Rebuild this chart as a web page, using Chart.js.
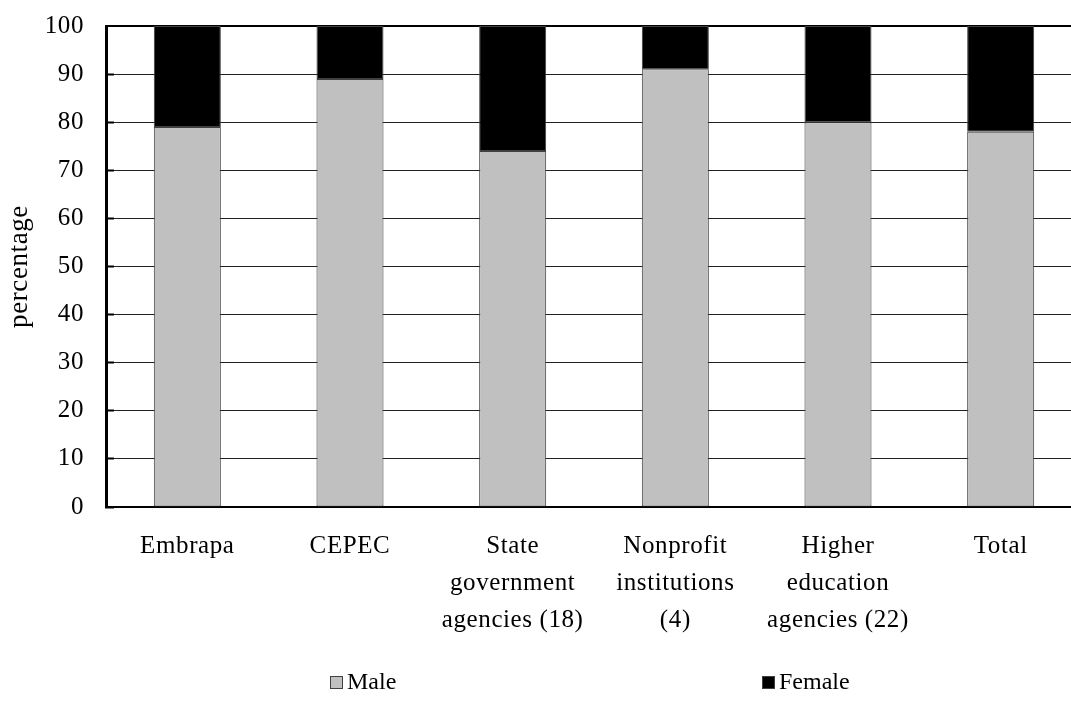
<!DOCTYPE html>
<html>
<head>
<meta charset="utf-8">
<script src="https://cdn.jsdelivr.net/npm/chart.js@4/dist/chart.umd.min.js"></script>
<style>
  html, body { margin: 0; padding: 0; background: #fff; overflow: hidden; }
  /* the y tick padding pushes the plot down 45px; pull the canvas up so the plot starts near the top */
  #wrap { position: absolute; left: 0; top: -19px; width: 1090px; height: 730px; }
</style>
</head>
<body>
<div id="wrap"><canvas id="staff-chart"></canvas></div>
<script>
// Staff by sex per institution type (%)
const categories = [
    'Embrapa',
    'CEPEC',
    ['State', 'government', 'agencies (18)'],
    ['Nonprofit', 'institutions', '(4)'],
    ['Higher', 'education', 'agencies (22)'],
    'Total'
];
const maleShare = [79, 89, 74, 91, 80, 78];
const femaleShare = [21, 11, 26, 9, 20, 22];
const yTicks = [0, 10, 20, 30, 40, 50, 60, 70, 80, 90, 100];

const SERIF = '"Liberation Serif", "Times New Roman", serif';

// slightly loose lettering, as in the printed figure
const looseText = {
    id: 'looseText',
    beforeLayout(chart) { chart.ctx.letterSpacing = '0.6px'; },
    beforeDraw(chart) { chart.ctx.letterSpacing = '0.6px'; }
};

// legend drawn spread out under the plot
const spreadLegend = {
    id: 'spreadLegend',
    afterDraw(chart) {
        const ctx = chart.ctx;
        const slots = [330, 762];
        const y = chart.chartArea.bottom + 176;
        ctx.save();
        ctx.letterSpacing = '0px';
        ctx.font = '24px ' + SERIF;
        ctx.textBaseline = 'middle';
        ctx.textAlign = 'left';
        chart.data.datasets.forEach((ds, i) => {
            const x = slots[i];
            ctx.fillStyle = ds.backgroundColor;
            ctx.fillRect(x, y - 7, 13, 13);
            ctx.strokeStyle = '#404040';
            ctx.lineWidth = 1;
            ctx.strokeRect(x + 0.5, y - 6.5, 12, 12);
            ctx.fillStyle = '#000';
            ctx.fillText(ds.label, x + 17, y);
        });
        ctx.restore();
    }
};

const ctx = document.getElementById('staff-chart').getContext('2d');
const staffChart = new Chart(ctx, {
    type: 'bar',
    data: {
        labels: categories,
        datasets: [
            { label: 'Male', data: maleShare, backgroundColor: '#c0c0c0', borderColor: '#404040', borderWidth: 1, borderSkipped: false },
            { label: 'Female', data: femaleShare, backgroundColor: '#000000', borderColor: '#404040', borderWidth: 1, borderSkipped: false }
        ]
    },
    options: {
        responsive: true,
        maintainAspectRatio: false,
        animation: false,
        barPercentage: 0.412,
        categoryPercentage: 1,
        layout: { padding: { top: 0, right: 8, left: 0, bottom: 0 } },
        plugins: {
            legend: { display: false },
            tooltip: { enabled: false }
        },
        scales: {
            x: {
                stacked: true,
                grid: { display: false },
                border: { display: true, color: '#000', width: 2 },
                ticks: {
                    color: '#000',
                    padding: 13,
                    maxRotation: 0,
                    autoSkip: false,
                    font: { family: SERIF, size: 25, lineHeight: 1.48 }
                },
                afterFit(scale) { scale.height = 204; }
            },
            y: {
                stacked: true,
                min: 0,
                max: 100,
                afterBuildTicks(scale) { scale.ticks = yTicks.map(v => ({ value: v })); },
                grid: {
                    color: c => c.tick && c.tick.value === 100 ? '#000' : '#222',
                    lineWidth: c => c.tick && c.tick.value === 100 ? 2 : 1,
                    tickLength: -8,
                    tickColor: '#000',
                    tickWidth: 2
                },
                border: { display: true, color: '#000', width: 3 },
                ticks: {
                    color: '#000',
                    padding: 30,
                    font: { family: SERIF, size: 25 }
                },
                title: {
                    display: true,
                    text: 'percentage',
                    color: '#000',
                    padding: { top: 4, bottom: 0 },
                    font: { family: SERIF, size: 27 }
                },
                afterFit(scale) { scale.width = 106; }
            }
        }
    },
    plugins: [looseText, spreadLegend]
});
</script>
</body>
</html>
